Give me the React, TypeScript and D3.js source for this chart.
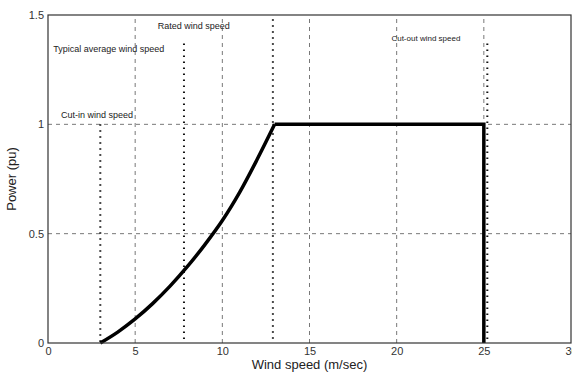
import React, { useRef, useEffect } from "react";
import * as d3 from "d3";

// power curve (wind speed m/s, power pu)
const curveSpeed = [3, 4, 5, 6, 7, 8, 9, 10, 11, 12, 13, 25, 25];
const curvePower = [0, 0.05, 0.11, 0.18, 0.26, 0.35, 0.45, 0.56, 0.69, 0.84, 1.0, 1.0, 0];

const xTicks = [0, 5, 10, 15, 20, 25, 30];
const yTicks = [0, 0.5, 1, 1.5];
const gridX = [5, 10, 15, 20, 25];
const gridY = [0.5, 1];

// dotted marker lines: speed, top power
const markerSpeed = [3, 7.8, 12.9, 25.2];
const markerTop = [1.0, 1.37, 1.48, 1.37];
const markerLabels = ["Cut-in wind speed", "Typical average wind speed", "Rated wind speed", "Cut-out wind speed"];
const labelSpeed = [0.75, 0.3, 6.3, 19.7];
const labelPower = [1.03, 1.333, 1.435, 1.38];
const labelSize = [9, 9, 9, 8];

export default function App() {
    const svgRef = useRef(null);

    useEffect(() => {
        document.body.style.margin = "0";
        const width = 572;
        const height = 374;
        const margin = { top: 15, right: 1, bottom: 31, left: 48 };

        const x = d3.scaleLinear().domain([0, 30]).range([margin.left, width - margin.right]);
        const y = d3.scaleLinear().domain([0, 1.5]).range([height - margin.bottom, margin.top]);

        const svg = d3.select(svgRef.current).attr("width", width).attr("height", height);
        svg.selectAll("*").remove();
        svg.append("rect").attr("width", width).attr("height", height).attr("fill", "#fff");

        const font = "Liberation Sans, Arial, sans-serif";

        // grid
        svg.append("g").selectAll("line").data(gridX).join("line")
            .attr("x1", (d) => x(d)).attr("x2", (d) => x(d))
            .attr("y1", y(0)).attr("y2", y(1.5))
            .attr("stroke", "#555").attr("stroke-width", 0.8).attr("stroke-dasharray", "4,4");
        svg.append("g").selectAll("line").data(gridY).join("line")
            .attr("x1", x(0)).attr("x2", x(30))
            .attr("y1", (d) => y(d)).attr("y2", (d) => y(d))
            .attr("stroke", "#555").attr("stroke-width", 0.8).attr("stroke-dasharray", "4,4");

        // dotted markers
        svg.append("g").selectAll("line").data(markerSpeed).join("line")
            .attr("x1", (d) => x(d)).attr("x2", (d) => x(d))
            .attr("y1", (d, i) => y(markerTop[i])).attr("y2", y(0))
            .attr("stroke", "#111").attr("stroke-width", 2)
            .attr("stroke-dasharray", "1.5,4.5");

        // power curve
        const pts = curveSpeed.map((s, i) => [s, curvePower[i]] as [number, number]);
        const line = d3.line<[number, number]>().x((d) => x(d[0])).y((d) => y(d[1])).curve(d3.curveCatmullRom);
        svg.append("path").datum(pts.slice(0, 11)).attr("fill", "none")
            .attr("stroke", "#000").attr("stroke-width", 3.5).attr("d", line);
        svg.append("path").datum(pts.slice(10)).attr("fill", "none")
            .attr("stroke", "#000").attr("stroke-width", 3.5)
            .attr("d", d3.line<[number, number]>().x((d) => x(d[0])).y((d) => y(d[1])));

        // marker labels
        svg.append("g").selectAll("text").data(markerLabels).join("text")
            .attr("x", (d, i) => x(labelSpeed[i])).attr("y", (d, i) => y(labelPower[i]))
            .attr("font-family", font).attr("font-size", (d, i) => labelSize[i])
            .attr("fill", "#222").text((d) => d);

        // axes box
        svg.append("rect").attr("x", x(0)).attr("y", y(1.5))
            .attr("width", x(30) - x(0)).attr("height", y(0) - y(1.5))
            .attr("fill", "none").attr("stroke", "#333").attr("stroke-width", 1.2);

        svg.append("g").attr("transform", `translate(0,${y(0)})`)
            .call(d3.axisBottom(x).tickValues(xTicks).tickSize(0).tickPadding(4).tickFormat(d3.format("d")))
            .call((g) => g.select(".domain").remove())
            .selectAll("text").attr("font-family", font).attr("font-size", 11).attr("fill", "#333");

        svg.append("g").attr("transform", `translate(${x(0)},0)`)
            .call(d3.axisLeft(y).tickValues(yTicks).tickSize(0).tickPadding(4).tickFormat((d) => String(d)))
            .call((g) => g.select(".domain").remove())
            .selectAll("text").attr("font-family", font).attr("font-size", 11).attr("fill", "#333");

        svg.append("text").attr("x", (x(0) + x(30)) / 2).attr("y", 369)
            .attr("text-anchor", "middle").attr("font-family", font).attr("font-size", 13)
            .attr("fill", "#222").text("Wind speed (m/sec)");

        svg.append("text").attr("transform", `translate(16,${(y(0) + y(1.5)) / 2}) rotate(-90)`)
            .attr("text-anchor", "middle").attr("font-family", font).attr("font-size", 13)
            .attr("fill", "#222").text("Power (pu)");
    }, []);

    return <svg ref={svgRef} style={{ display: "block" }}></svg>;
}
